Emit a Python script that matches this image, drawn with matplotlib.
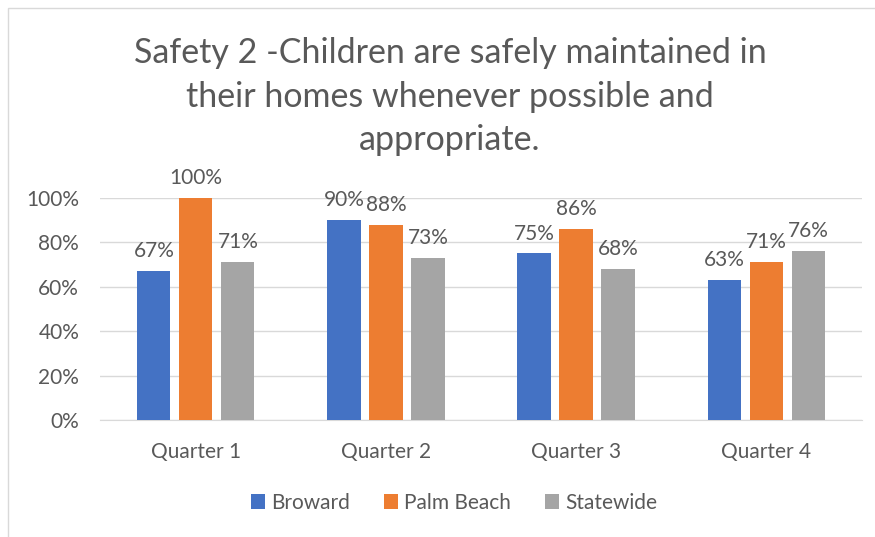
import numpy as np
import matplotlib
matplotlib.use("Agg")
import matplotlib.pyplot as plt
from matplotlib.patches import Rectangle

plt.rcParams['font.family'] = ['Lato', 'DejaVu Sans']

quarters = ['Quarter 1', 'Quarter 2', 'Quarter 3', 'Quarter 4']
broward = [67, 90, 75, 63]
palm_beach = [100, 88, 86, 71]
statewide = [71, 73, 68, 76]
series_names = ['Broward', 'Palm Beach', 'Statewide']
colors = ['#4472C4', '#ED7D31', '#A5A5A5']
text_col = '#595959'

fig = plt.figure(figsize=(8.75, 5.37), dpi=100)
ax = fig.add_axes([100/875, 117/537, 762/875, 222/537])

# outer chart border (only top/left visible in the reference)
fig.patches.append(Rectangle((8/875, -0.1), 1.2, (537-8)/537 + 0.1,
                             transform=fig.transFigure, fill=False,
                             edgecolor='#D9D9D9', lw=1))

x = np.arange(len(quarters))
w = 0.174
step = 0.221
for i, (vals, name, c) in enumerate(zip([broward, palm_beach, statewide], series_names, colors)):
    pos = x + (i - 1) * step
    bars = ax.bar(pos, vals, width=w, color=c, label=name, zorder=3)
    for b, v in zip(bars, vals):
        ax.text(b.get_x() + b.get_width()/2, v + 4.5, f'{v}%', ha='center', va='bottom',
                fontsize=15, color=text_col)

ax.set_ylim(0, 100)
ax.set_xlim(-0.505, 3.505)
ax.set_yticks(np.arange(0, 101, 20))
ax.set_yticklabels([f'{t}%' for t in range(0, 101, 20)])
ax.set_xticks(x)
ax.set_xticklabels(quarters)
ax.yaxis.grid(True, color='#D9D9D9', lw=1, zorder=0)
for s in ['top', 'right', 'left']:
    ax.spines[s].set_visible(False)
ax.spines['bottom'].set_color('#D9D9D9')
ax.tick_params(axis='both', length=0, labelsize=15, colors=text_col)
ax.tick_params(axis='y', pad=15)
ax.tick_params(axis='x', pad=16)

fig.text(450/875, 1 - 37/537,
         'Safety 2 -Children are safely maintained in\ntheir homes whenever possible and\nappropriate.',
         ha='center', va='top', fontsize=24.5, color=text_col, linespacing=1.45)

fig.legend(loc='center', bbox_to_anchor=(454/875, 1 - 503/537), ncol=3, frameon=False,
           fontsize=15, labelcolor=text_col, handlelength=0.7, handleheight=0.7,
           handletextpad=0.3, columnspacing=1.6)

fig.savefig('out.png', dpi=100)
